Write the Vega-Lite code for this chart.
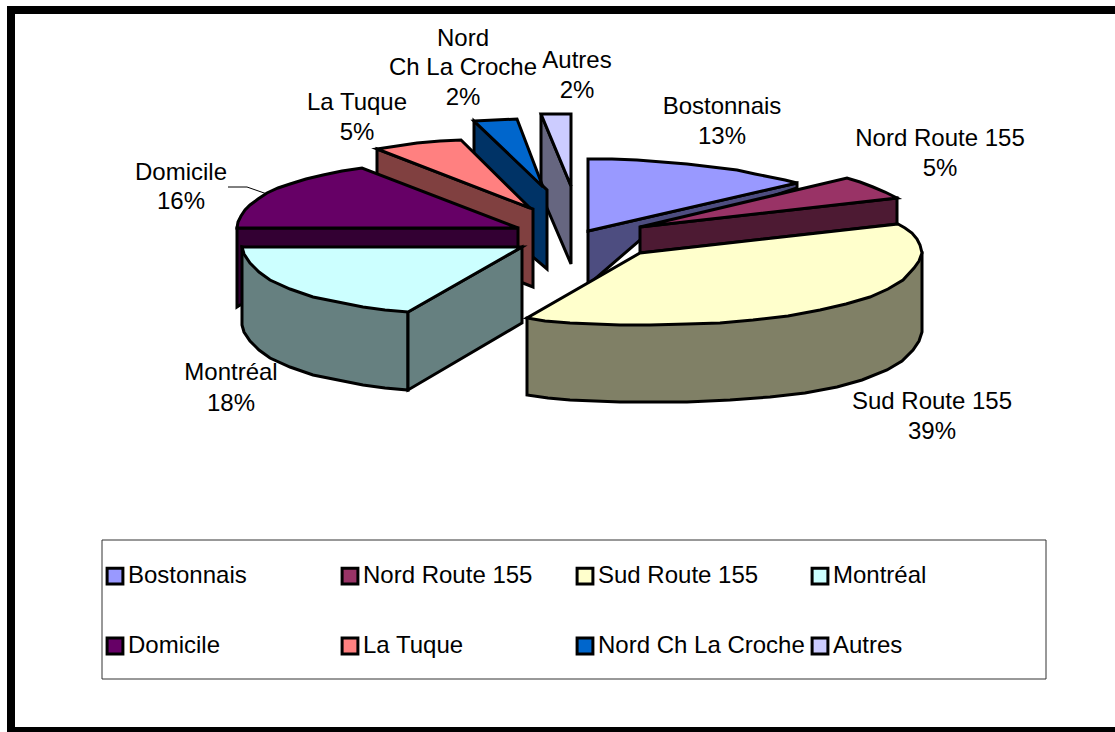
{"$schema":"https://vega.github.io/schema/vega-lite/v6.json","width":1115,"height":732,"autosize":{"type":"fit","contains":"padding"},"padding":0,"background":"white","view":{"stroke":null},"config":{"font":"Liberation Sans"},
"datasets":{
"frame":[{"id":"outer","o":1,"x":1125,"y":10},{"id":"outer","o":2,"x":11,"y":10},{"id":"outer","o":3,"x":11,"y":731},{"id":"outer","o":4,"x":1125,"y":731}],
"box":[{"id":"box","o":1,"x":102,"y":540},{"id":"box","o":2,"x":1046,"y":540},{"id":"box","o":3,"x":1046,"y":679},{"id":"box","o":4,"x":102,"y":679}],
"leader":[{"id":"lead","o":1,"x":228,"y":187},{"id":"lead","o":2,"x":247,"y":187},{"id":"lead","o":3,"x":267,"y":194}],
"faces":[
{"shape":1,"part":"Autres côté","o":1,"x":541,"y":114},{"shape":1,"part":"Autres côté","o":2,"x":571,"y":186},{"shape":1,"part":"Autres côté","o":3,"x":571,"y":264},{"shape":1,"part":"Autres côté","o":4,"x":547,"y":208},{"shape":1,"part":"Autres côté","o":5,"x":541,"y":190},
{"shape":2,"part":"Autres","o":1,"x":541,"y":114},{"shape":2,"part":"Autres","o":2,"x":571,"y":114},{"shape":2,"part":"Autres","o":3,"x":571,"y":186},
{"shape":3,"part":"Nord Ch La Croche côté","o":1,"x":474,"y":121},{"shape":3,"part":"Nord Ch La Croche côté","o":2,"x":547,"y":190},{"shape":3,"part":"Nord Ch La Croche côté","o":3,"x":547,"y":269},{"shape":3,"part":"Nord Ch La Croche côté","o":4,"x":534,"y":258},{"shape":3,"part":"Nord Ch La Croche côté","o":5,"x":474,"y":200},
{"shape":4,"part":"Nord Ch La Croche","o":1,"x":474,"y":121},{"shape":4,"part":"Nord Ch La Croche","o":2,"x":517,"y":119},{"shape":4,"part":"Nord Ch La Croche","o":3,"x":543,"y":187},
{"shape":5,"part":"La Tuque côté","o":1,"x":377,"y":149},{"shape":5,"part":"La Tuque côté","o":2,"x":533,"y":209},{"shape":5,"part":"La Tuque côté","o":3,"x":533,"y":287},{"shape":5,"part":"La Tuque côté","o":4,"x":523,"y":283},{"shape":5,"part":"La Tuque côté","o":5,"x":377,"y":220},
{"shape":6,"part":"La Tuque","o":1,"x":377,"y":149},{"shape":6,"part":"La Tuque","o":2,"x":397,"y":146},{"shape":6,"part":"La Tuque","o":3,"x":417,"y":143},{"shape":6,"part":"La Tuque","o":4,"x":440,"y":141},{"shape":6,"part":"La Tuque","o":5,"x":461,"y":140},{"shape":6,"part":"La Tuque","o":6,"x":530,"y":208},
{"shape":7,"part":"Domicile côté","o":1,"x":237,"y":228},{"shape":7,"part":"Domicile côté","o":2,"x":518,"y":228},{"shape":7,"part":"Domicile côté","o":3,"x":518,"y":300},{"shape":7,"part":"Domicile côté","o":4,"x":240,"y":305},{"shape":7,"part":"Domicile côté","o":5,"x":237,"y":307},
{"shape":8,"part":"Domicile","o":1,"x":237,"y":228},{"shape":8,"part":"Domicile","o":2,"x":238,"y":222},{"shape":8,"part":"Domicile","o":3,"x":241,"y":216},{"shape":8,"part":"Domicile","o":4,"x":245,"y":210},{"shape":8,"part":"Domicile","o":5,"x":250,"y":205},{"shape":8,"part":"Domicile","o":6,"x":258,"y":199},{"shape":8,"part":"Domicile","o":7,"x":267,"y":193},{"shape":8,"part":"Domicile","o":8,"x":278,"y":188},{"shape":8,"part":"Domicile","o":9,"x":290,"y":184},{"shape":8,"part":"Domicile","o":10,"x":306,"y":179},{"shape":8,"part":"Domicile","o":11,"x":323,"y":175},{"shape":8,"part":"Domicile","o":12,"x":342,"y":171},{"shape":8,"part":"Domicile","o":13,"x":362,"y":168},{"shape":8,"part":"Domicile","o":14,"x":518,"y":228},
{"shape":9,"part":"Bostonnais côté","o":1,"x":588,"y":231},{"shape":9,"part":"Bostonnais côté","o":2,"x":797,"y":183},{"shape":9,"part":"Bostonnais côté","o":3,"x":797,"y":188},{"shape":9,"part":"Bostonnais côté","o":4,"x":640,"y":240},{"shape":9,"part":"Bostonnais côté","o":5,"x":588,"y":285},
{"shape":10,"part":"Bostonnais","o":1,"x":588,"y":159},{"shape":10,"part":"Bostonnais","o":2,"x":612,"y":159},{"shape":10,"part":"Bostonnais","o":3,"x":637,"y":160},{"shape":10,"part":"Bostonnais","o":4,"x":662,"y":162},{"shape":10,"part":"Bostonnais","o":5,"x":687,"y":164},{"shape":10,"part":"Bostonnais","o":6,"x":712,"y":167},{"shape":10,"part":"Bostonnais","o":7,"x":737,"y":170},{"shape":10,"part":"Bostonnais","o":8,"x":755,"y":174},{"shape":10,"part":"Bostonnais","o":9,"x":770,"y":177},{"shape":10,"part":"Bostonnais","o":10,"x":785,"y":180},{"shape":10,"part":"Bostonnais","o":11,"x":797,"y":183},{"shape":10,"part":"Bostonnais","o":12,"x":588,"y":231},
{"shape":11,"part":"Nord Route 155 côté","o":1,"x":640,"y":227},{"shape":11,"part":"Nord Route 155 côté","o":2,"x":897,"y":198},{"shape":11,"part":"Nord Route 155 côté","o":3,"x":897,"y":224},{"shape":11,"part":"Nord Route 155 côté","o":4,"x":640,"y":253},
{"shape":12,"part":"Nord Route 155","o":1,"x":640,"y":227},{"shape":12,"part":"Nord Route 155","o":2,"x":847,"y":178},{"shape":12,"part":"Nord Route 155","o":3,"x":860,"y":182},{"shape":12,"part":"Nord Route 155","o":4,"x":873,"y":187},{"shape":12,"part":"Nord Route 155","o":5,"x":885,"y":192},{"shape":12,"part":"Nord Route 155","o":6,"x":897,"y":198},
{"shape":13,"part":"Sud Route 155 côté","o":1,"x":527,"y":318},{"shape":13,"part":"Sud Route 155 côté","o":2,"x":922,"y":253},{"shape":13,"part":"Sud Route 155 côté","o":3,"x":922,"y":332},{"shape":13,"part":"Sud Route 155 côté","o":4,"x":919,"y":341},{"shape":13,"part":"Sud Route 155 côté","o":5,"x":913,"y":350},{"shape":13,"part":"Sud Route 155 côté","o":6,"x":902,"y":361},{"shape":13,"part":"Sud Route 155 côté","o":7,"x":887,"y":370},{"shape":13,"part":"Sud Route 155 côté","o":8,"x":862,"y":380},{"shape":13,"part":"Sud Route 155 côté","o":9,"x":837,"y":387},{"shape":13,"part":"Sud Route 155 côté","o":10,"x":805,"y":393},{"shape":13,"part":"Sud Route 155 côté","o":11,"x":770,"y":397},{"shape":13,"part":"Sud Route 155 côté","o":12,"x":730,"y":400},{"shape":13,"part":"Sud Route 155 côté","o":13,"x":687,"y":402},{"shape":13,"part":"Sud Route 155 côté","o":14,"x":650,"y":402},{"shape":13,"part":"Sud Route 155 côté","o":15,"x":620,"y":402},{"shape":13,"part":"Sud Route 155 côté","o":16,"x":595,"y":401},{"shape":13,"part":"Sud Route 155 côté","o":17,"x":570,"y":400},{"shape":13,"part":"Sud Route 155 côté","o":18,"x":548,"y":398},{"shape":13,"part":"Sud Route 155 côté","o":19,"x":527,"y":395},
{"shape":14,"part":"Sud Route 155","o":1,"x":640,"y":253},{"shape":14,"part":"Sud Route 155","o":2,"x":898,"y":224},{"shape":14,"part":"Sud Route 155","o":3,"x":905,"y":228},{"shape":14,"part":"Sud Route 155","o":4,"x":912,"y":233},{"shape":14,"part":"Sud Route 155","o":5,"x":917,"y":239},{"shape":14,"part":"Sud Route 155","o":6,"x":920,"y":245},{"shape":14,"part":"Sud Route 155","o":7,"x":922,"y":253},{"shape":14,"part":"Sud Route 155","o":8,"x":919,"y":261},{"shape":14,"part":"Sud Route 155","o":9,"x":914,"y":268},{"shape":14,"part":"Sud Route 155","o":10,"x":903,"y":280},{"shape":14,"part":"Sud Route 155","o":11,"x":888,"y":289},{"shape":14,"part":"Sud Route 155","o":12,"x":870,"y":297},{"shape":14,"part":"Sud Route 155","o":13,"x":846,"y":304},{"shape":14,"part":"Sud Route 155","o":14,"x":820,"y":310},{"shape":14,"part":"Sud Route 155","o":15,"x":788,"y":316},{"shape":14,"part":"Sud Route 155","o":16,"x":753,"y":320},{"shape":14,"part":"Sud Route 155","o":17,"x":720,"y":323},{"shape":14,"part":"Sud Route 155","o":18,"x":687,"y":324},{"shape":14,"part":"Sud Route 155","o":19,"x":650,"y":325},{"shape":14,"part":"Sud Route 155","o":20,"x":620,"y":325},{"shape":14,"part":"Sud Route 155","o":21,"x":595,"y":324},{"shape":14,"part":"Sud Route 155","o":22,"x":570,"y":323},{"shape":14,"part":"Sud Route 155","o":23,"x":545,"y":321},{"shape":14,"part":"Sud Route 155","o":24,"x":527,"y":318},
{"shape":15,"part":"Montréal côté","o":1,"x":242,"y":247},{"shape":15,"part":"Montréal côté","o":2,"x":408,"y":312},{"shape":15,"part":"Montréal côté","o":3,"x":408,"y":390},{"shape":15,"part":"Montréal côté","o":4,"x":385,"y":388},{"shape":15,"part":"Montréal côté","o":5,"x":363,"y":385},{"shape":15,"part":"Montréal côté","o":6,"x":338,"y":380},{"shape":15,"part":"Montréal côté","o":7,"x":313,"y":375},{"shape":15,"part":"Montréal côté","o":8,"x":290,"y":367},{"shape":15,"part":"Montréal côté","o":9,"x":270,"y":358},{"shape":15,"part":"Montréal côté","o":10,"x":259,"y":350},{"shape":15,"part":"Montréal côté","o":11,"x":250,"y":341},{"shape":15,"part":"Montréal côté","o":12,"x":244,"y":332},{"shape":15,"part":"Montréal côté","o":13,"x":242,"y":325},
{"shape":16,"part":"Montréal côté","o":1,"x":408,"y":312},{"shape":16,"part":"Montréal côté","o":2,"x":522,"y":247},{"shape":16,"part":"Montréal côté","o":3,"x":522,"y":323},{"shape":16,"part":"Montréal côté","o":4,"x":408,"y":390},
{"shape":17,"part":"Montréal","o":1,"x":242,"y":247},{"shape":17,"part":"Montréal","o":2,"x":522,"y":247},{"shape":17,"part":"Montréal","o":3,"x":408,"y":312},{"shape":17,"part":"Montréal","o":4,"x":385,"y":310},{"shape":17,"part":"Montréal","o":5,"x":363,"y":307},{"shape":17,"part":"Montréal","o":6,"x":338,"y":302},{"shape":17,"part":"Montréal","o":7,"x":313,"y":297},{"shape":17,"part":"Montréal","o":8,"x":290,"y":289},{"shape":17,"part":"Montréal","o":9,"x":270,"y":280},{"shape":17,"part":"Montréal","o":10,"x":259,"y":272},{"shape":17,"part":"Montréal","o":11,"x":250,"y":263},{"shape":17,"part":"Montréal","o":12,"x":244,"y":254}
],
"labels":[{"t":"Bostonnais","x":722,"y":107},{"t":"13%","x":722,"y":137},{"t":"Nord Route 155","x":940,"y":139},{"t":"5%","x":940,"y":169},{"t":"Sud Route 155","x":932,"y":402},{"t":"39%","x":932,"y":432},{"t":"Montréal","x":231,"y":373},{"t":"18%","x":231,"y":404},{"t":"Domicile","x":181,"y":173},{"t":"16%","x":181,"y":202},{"t":"La Tuque","x":357,"y":103},{"t":"5%","x":357,"y":133},{"t":"Nord","x":463,"y":39},{"t":"Ch La Croche","x":463,"y":68},{"t":"2%","x":463,"y":98},{"t":"Autres","x":577,"y":61},{"t":"2%","x":577,"y":91}]
},
"layer":[
{"data":{"name":"box"},"mark":{"type":"line","interpolate":"linear-closed","stroke":"#333333","strokeWidth":1,"fill":"white"},"encoding":{"x":{"field":"x","type":"quantitative","scale":{"domain":[0,1115],"nice":false,"zero":false},"axis":null},"y":{"field":"y","type":"quantitative","scale":{"domain":[732,0],"nice":false,"zero":false},"axis":null},"order":{"field":"o"}}},
{"data":{"name":"frame"},"mark":{"type":"line","stroke":"black","strokeWidth":8,"clip":true},"encoding":{"x":{"field":"x","type":"quantitative"},"y":{"field":"y","type":"quantitative"},"order":{"field":"o"}}},
{"data":{"name":"leader"},"mark":{"type":"line","stroke":"black","strokeWidth":1},"encoding":{"x":{"field":"x","type":"quantitative"},"y":{"field":"y","type":"quantitative"},"order":{"field":"o"}}},
{"data":{"name":"faces"},"mark":{"type":"line","interpolate":"linear-closed","stroke":"black","strokeWidth":3,"strokeJoin":"miter"},"encoding":{"x":{"field":"x","type":"quantitative"},"y":{"field":"y","type":"quantitative"},"order":{"field":"o"},"detail":{"field":"shape"},
"fill":{"field":"part","type":"nominal","sort":null,"scale":{"domain":["Bostonnais","Nord Route 155","Sud Route 155","Montréal","Domicile","La Tuque","Nord Ch La Croche","Autres","Bostonnais côté","Nord Route 155 côté","Sud Route 155 côté","Montréal côté","Domicile côté","La Tuque côté","Nord Ch La Croche côté","Autres côté"],"range":["#9999FF","#993366","#FFFFCC","#CCFFFF","#660066","#FF8080","#0066CC","#CCCCFF","#4D4D80","#4D1A33","#808066","#668080","#330033","#804040","#003366","#666680"]},
"legend":{"orient":"none","direction":"horizontal","legendX":103,"legendY":564,"title":null,"columns":4,"gridAlign":"all","values":["Bostonnais","Nord Route 155","Sud Route 155","Montréal","Domicile","La Tuque","Nord Ch La Croche","Autres"],"symbolType":"square","symbolSize":250,"symbolStrokeColor":"black","symbolStrokeWidth":3,"symbolOpacity":1,"labelFont":"Liberation Sans","labelFontSize":24,"labelColor":"black","labelLimit":400,"labelOffset":1,"columnPadding":1,"rowPadding":42,"padding":0}}}},
{"data":{"name":"labels"},"mark":{"type":"text","font":"Liberation Sans","fontSize":24,"color":"black","align":"center","baseline":"middle"},"encoding":{"x":{"field":"x","type":"quantitative"},"y":{"field":"y","type":"quantitative"},"text":{"field":"t"}}}
]}
